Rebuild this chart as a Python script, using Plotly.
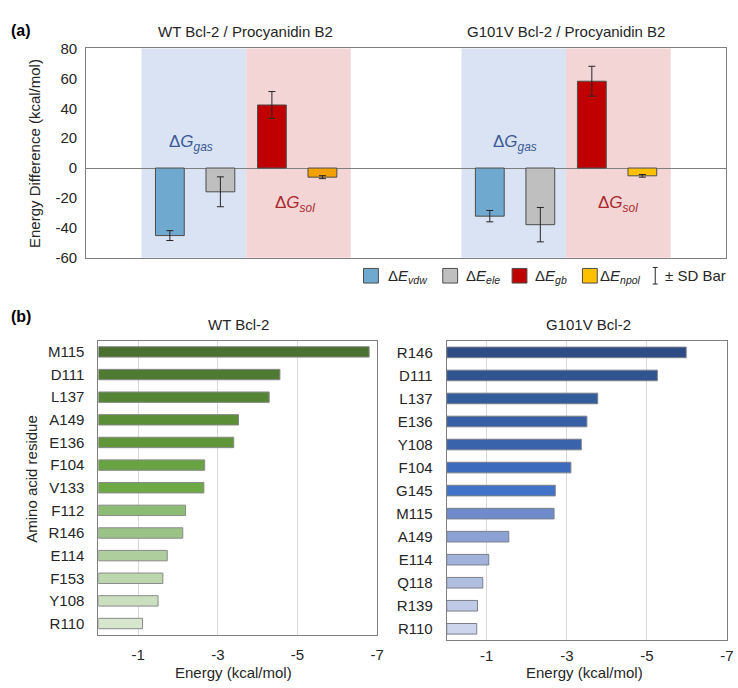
import plotly.graph_objects as go

W, H = 738, 688
def px(x): return x / W
def py(y): return 1 - y / H

FONT = "Liberation Sans, Arial, sans-serif"
TXT = "#262626"

# ---------------- data: panel (a) ----------------
groups = ["WT Bcl-2 / Procyanidin B2", "G101V Bcl-2 / Procyanidin B2"]
term_names = ["Δ<i>E</i><sub><i>vdw</i></sub>", "Δ<i>E</i><sub><i>ele</i></sub>",
              "Δ<i>E</i><sub><i>gb</i></sub>", "Δ<i>E</i><sub><i>npol</i></sub>"]
vdw = [-45.2, -32.2]
vdw_sd = [3.3, 3.8]
ele = [-15.9, -37.9]
ele_sd = [10.0, 11.5]
gb = [42.2, 58.1]
gb_sd = [9.0, 10.0]
npol = [-6.1, -5.2]
npol_sd = [1.0, 0.9]
y_ticks_a = [-60, -40, -20, 0, 20, 40, 60, 80]
y_ticktext_a = ["-60", "-40", "-20", "0", "20", "40", "60", "80"]

# ---------------- data: panel (b) ----------------
wt_res = ["M115", "D111", "L137", "A149", "E136", "F104", "V133",
          "F112", "R146", "E114", "F153", "Y108", "R110"]
wt_energy = [-6.80, -4.56, -4.29, -3.52, -3.40, -2.67, -2.65,
             -2.19, -2.12, -1.73, -1.62, -1.50, -1.11]
mut_res = ["R146", "D111", "L137", "E136", "Y108", "F104", "G145",
           "M115", "A149", "E114", "Q118", "R139", "R110"]
mut_energy = [-5.98, -5.26, -3.77, -3.50, -3.36, -3.10, -2.71,
              -2.68, -1.55, -1.05, -0.90, -0.77, -0.75]
x_ticks_b = [-1, -3, -5, -7]
x_ticktext_b = ["-1", "-3", "-5", "-7"]

# ---------------- styles ----------------
term_colors = ["#6FA9D0", "#C0BFBF", "#C00000", "#FFC000"]
npol_colors = ["#F2A200", "#FFC000"]
green = ["#4A7030", "#4E7A32", "#548535", "#5A8F37", "#5E9639", "#67A342", "#6DAA45",
         "#8CBB73", "#9AC385", "#AECE9D", "#BCD7AE", "#C9DFBE", "#D6E7CE"]
blue = ["#2D4B84", "#30548F", "#335C9B", "#365FA5", "#3963AB", "#3C6BBE", "#4173C8",
        "#6F8BCB", "#8BA0D3", "#A0B1DA", "#B0BEE0", "#BECAE6", "#CDD5EC"]
offsets = [-0.2384, -0.0805, 0.0805, 0.2384]
bar_w = 0.09
shade_half = 0.327

fig = go.Figure()

series = [(vdw, vdw_sd), (ele, ele_sd), (gb, gb_sd), (npol, npol_sd)]
for i, (vals, sds) in enumerate(series):
    xs = [g + 0.5 + offsets[i] for g in range(len(groups))]
    col = npol_colors if i == 3 else term_colors[i]
    fig.add_trace(go.Bar(
        x=xs, y=vals, width=bar_w, name=term_names[i],
        marker=dict(color=col, line=dict(color="#4D4D4D", width=1)),
        error_y=dict(type="data", array=sds, visible=True, color="#262626",
                     thickness=1, width=3.5),
        xaxis="x", yaxis="y", showlegend=False))

fig.add_trace(go.Bar(
    y=wt_res, x=wt_energy, orientation="h", width=0.46,
    marker=dict(color=green, line=dict(color="#8A8A8A", width=1)),
    xaxis="x2", yaxis="y2", showlegend=False))
fig.add_trace(go.Bar(
    y=mut_res, x=mut_energy, orientation="h", width=0.46,
    marker=dict(color=blue, line=dict(color="#7A7F8A", width=1)),
    xaxis="x3", yaxis="y3", showlegend=False))

shapes = []
for g in range(len(groups)):
    c = g + 0.5
    shapes.append(dict(type="rect", xref="x", yref="y domain", x0=c - shade_half, x1=c,
                       y0=0, y1=1, fillcolor="#DAE3F3", line=dict(width=0), layer="below"))
    shapes.append(dict(type="rect", xref="x", yref="y domain", x0=c, x1=c + shade_half,
                       y0=0, y1=1, fillcolor="#F4D5D6", line=dict(width=0), layer="below"))

# legend (manual)
leg_y0, leg_y1 = 266, 281
sq_x = [367, 447, 517, 588]
txt_x = [390, 468, 538, 604]
legend_colors = term_colors
for i in range(4):
    shapes.append(dict(type="rect", xref="paper", yref="paper",
                       x0=px(sq_x[i]), x1=px(sq_x[i] + 15), y0=py(leg_y1), y1=py(leg_y0),
                       fillcolor=legend_colors[i], line=dict(color="#4D4D4D", width=1)))
# error bar icon
ex = 661.5
shapes.append(dict(type="line", xref="paper", yref="paper", x0=px(ex), x1=px(ex),
                   y0=py(282), y1=py(265), line=dict(color="#262626", width=1)))
for yy in (265, 282):
    shapes.append(dict(type="line", xref="paper", yref="paper", x0=px(ex - 2.5), x1=px(ex + 2.5),
                       y0=py(yy), y1=py(yy), line=dict(color="#262626", width=1)))

annotations = []
for i in range(4):
    annotations.append(dict(text=term_names[i], xref="paper", yref="paper",
                            x=px(txt_x[i]), y=py(274), xanchor="left", yanchor="middle",
                            showarrow=False, font=dict(size=15, color=TXT, family=FONT)))
annotations.append(dict(text="± SD Bar", xref="paper", yref="paper", x=px(735), y=py(273),
                        xanchor="right", yanchor="middle", showarrow=False,
                        font=dict(size=15, color=TXT, family=FONT)))

# ΔG labels
gas_pos = [(0.328, 17), (1.341, 17)]
sol_pos = [(0.653, -24), (1.663, -24)]
for (gx, gy) in gas_pos:
    annotations.append(dict(text="Δ<i>G</i><sub><i>gas</i></sub>", x=gx, y=gy, xref="x", yref="y",
                            showarrow=False, font=dict(size=17, color="#3A5A96", family=FONT)))
for (sx, sy) in sol_pos:
    annotations.append(dict(text="Δ<i>G</i><sub><i>sol</i></sub>", x=sx, y=sy, xref="x", yref="y",
                            showarrow=False, font=dict(size=17, color="#A8282C", family=FONT)))

# titles and labels
def label(text, x, y, size=15, bold=False, angle=0, anchor="center"):
    if bold:
        text = "<b>" + text + "</b>"
    annotations.append(dict(text=text, xref="paper", yref="paper", x=px(x), y=py(y),
                            xanchor=anchor, yanchor="middle", textangle=angle, showarrow=False,
                            font=dict(size=size, color="#000000" if bold else TXT, family=FONT)))

label("(a)", 9, 22, size=16, bold=True, anchor="left")
label("(b)", 9, 315, size=16, bold=True, anchor="left")
label(groups[0], 248, 23)
label(groups[1], 571, 23)
label("WT Bcl-2", 241, 323)
label("G101V Bcl-2", 594, 323)
label("Energy Difference (kcal/mol)", 35, 148, angle=-90)
label("Amino acid residue", 31, 482, angle=-90)
label("Energy (kcal/mol)", 236, 680)
label("Energy (kcal/mol)", 590, 680)

frame = "#7F7F7F"
tickfont = dict(size=15, color=TXT, family=FONT)

fig.update_layout(
    width=W, height=H, margin=dict(l=0, r=0, t=0, b=0),
    paper_bgcolor="white", plot_bgcolor="white",
    barmode="overlay", shapes=shapes, annotations=annotations,
    font=dict(family=FONT, size=15, color=TXT),
    xaxis=dict(domain=[px(87), px(733)], range=[0, 2], showticklabels=False, showgrid=False,
               zeroline=False, showline=True, mirror=True, linecolor=frame, linewidth=1,
               anchor="y", fixedrange=True),
    yaxis=dict(domain=[py(255), py(40.5)], range=[-60, 80], tickvals=y_ticks_a,
               ticktext=y_ticktext_a,
               showgrid=False, zeroline=True, zerolinecolor=frame, zerolinewidth=1,
               showline=True, mirror=True, linecolor=frame, linewidth=1,
               tickfont=tickfont, ticks="", ticklabelstandoff=5, anchor="x"),
    xaxis2=dict(domain=[px(99.3), px(380.7)], range=[0, -7], tickvals=x_ticks_b,
                ticktext=x_ticktext_b,
                showgrid=True, gridcolor="#D9D9D9", gridwidth=1, zeroline=False,
                showline=True, mirror=True, linecolor=frame, linewidth=1,
                tickfont=tickfont, ticks="outside", ticklen=6, tickcolor="rgba(0,0,0,0)",
                anchor="y2"),
    yaxis2=dict(domain=[py(641.7), py(340)], type="category", range=[12.5, -0.5],
                showgrid=False, zeroline=False, showline=True, mirror=True,
                linecolor=frame, linewidth=1, tickfont=tickfont, ticks="",
                ticklabelstandoff=10, anchor="x2"),
    xaxis3=dict(domain=[px(451), px(734)], range=[0, -7], tickvals=x_ticks_b,
                ticktext=x_ticktext_b,
                showgrid=True, gridcolor="#D9D9D9", gridwidth=1, zeroline=False,
                showline=True, mirror=True, linecolor=frame, linewidth=1,
                tickfont=tickfont, ticks="outside", ticklen=2, tickcolor="rgba(0,0,0,0)",
                anchor="y3"),
    yaxis3=dict(domain=[py(647.3), py(340.3)], type="category", range=[12.5, -0.5],
                showgrid=False, zeroline=False, showline=True, mirror=True,
                linecolor=frame, linewidth=1, tickfont=tickfont, ticks="",
                ticklabelstandoff=10, anchor="x3"),
)

fig.write_html("out.html", config={"displayModeBar": False},
               post_script="document.body.style.margin='0';document.body.style.overflow='hidden';")
